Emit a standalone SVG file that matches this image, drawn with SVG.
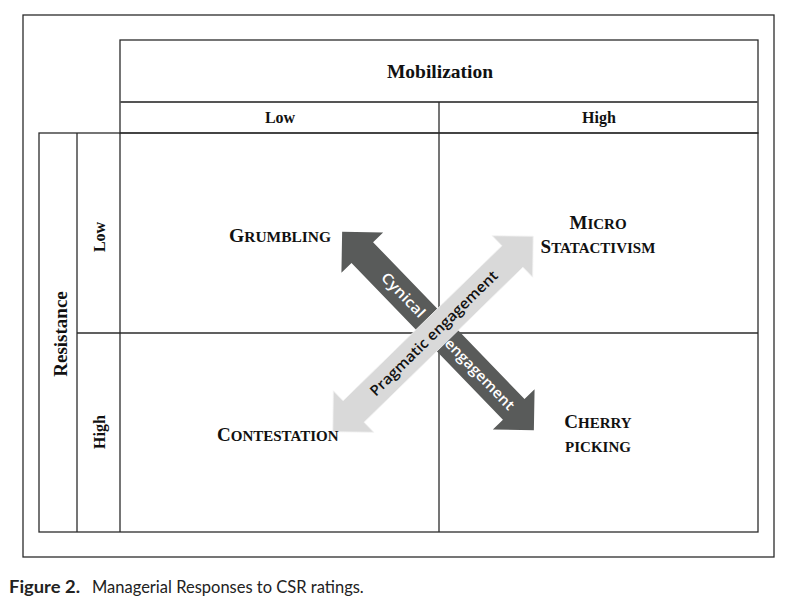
<svg xmlns="http://www.w3.org/2000/svg" width="789" height="607" viewBox="0 0 789 607">
<style>
.ln{fill:none;stroke:#2b2b2b;stroke-width:1.3}
.lg{fill:none;stroke:#555;stroke-width:2}
.hd{font-family:"Liberation Serif","Times New Roman",serif;font-weight:bold;fill:#111;text-anchor:middle}
.q{font-family:"Liberation Serif","Times New Roman",serif;font-weight:bold;fill:#111;font-size:15px}
.q .b{font-size:19px}
.at{font-family:"Open Sans","DejaVu Sans",sans-serif;font-weight:600;font-size:14.5px;text-anchor:middle}
.cap{font-family:Lato,"Open Sans",sans-serif;font-size:16.5px;fill:#222}
</style>
<rect width="789" height="607" fill="#fff"/>
<g id="frame">
<rect class="ln" x="23" y="15" width="751" height="542"/>
</g>
<g id="table">
<rect class="ln" x="120" y="40" width="638" height="93"/>
<line class="lg" x1="120" y1="102" x2="758" y2="102"/>
<line class="ln" x1="439" y1="102" x2="439" y2="532"/>
<rect class="ln" x="39" y="133" width="719" height="399"/>
<line class="ln" x1="77" y1="133" x2="77" y2="532"/>
<line class="ln" x1="120" y1="133" x2="120" y2="532"/>
<line class="ln" x1="77" y1="333" x2="758" y2="333"/>
</g>
<g id="header-mobilization"><text class="hd" x="440" y="78" font-size="19.5">Mobilization</text></g>
<g id="header-low"><text class="hd" x="280" y="123" font-size="16">Low</text></g>
<g id="header-high"><text class="hd" x="599" y="123" font-size="16">High</text></g>
<g id="header-resistance"><text class="hd" font-size="19" transform="translate(67,334) rotate(-90)">Resistance</text></g>
<g id="header-res-low"><text class="hd" font-size="16" transform="translate(105,237) rotate(-90)">Low</text></g>
<g id="header-res-high"><text class="hd" font-size="16" transform="translate(105,432) rotate(-90)">High</text></g>
<g id="connectors">
<g transform="translate(438,331) rotate(46)">
<polygon fill="#595b5a" points="-138,0 -109,-29 -109,-15 109,-15 109,-29 138,0 109,29 109,15 -109,15 -109,29"/>
<text class="at" x="-50" y="5" fill="#fff" textLength="56" lengthAdjust="spacingAndGlyphs">Cynical</text>
<text class="at" x="60" y="5" fill="#fff" textLength="93" lengthAdjust="spacingAndGlyphs">engagement</text>
</g>
<g transform="translate(433,334) rotate(-44.3)">
<polygon fill="#d9d9d9" stroke="#f2f2f2" stroke-width="0.8" points="-140,0 -111,-29 -111,-15 111,-15 111,-29 140,0 111,29 111,15 -111,15 -111,29"/>
<text class="at" x="1" y="5" fill="#111" textLength="172" lengthAdjust="spacingAndGlyphs">Pragmatic engagement</text>
</g>
</g>
<g id="grumbling"><text class="q" x="229" y="242" textLength="102" lengthAdjust="spacingAndGlyphs"><tspan class="b">G</tspan>RUMBLING</text></g>
<g id="micro-statactivism">
<text class="q" x="598" y="229" text-anchor="middle"><tspan class="b">M</tspan>ICRO</text>
<text class="q" x="598" y="253" text-anchor="middle"><tspan class="b">S</tspan>TATACTIVISM</text>
</g>
<g id="contestation"><text class="q" x="217" y="441"><tspan class="b">C</tspan>ONTESTATION</text></g>
<g id="cherry-picking">
<text class="q" x="598" y="428" text-anchor="middle"><tspan class="b">C</tspan>HERRY</text>
<text class="q" x="598" y="452" text-anchor="middle" font-size="16">PICKING</text>
</g>
<g id="caption">
<text class="cap" x="9" y="593"><tspan font-weight="bold" textLength="71" lengthAdjust="spacingAndGlyphs">Figure 2.</tspan><tspan x="92">Managerial Responses to CSR ratings.</tspan></text>
</g>
</svg>
